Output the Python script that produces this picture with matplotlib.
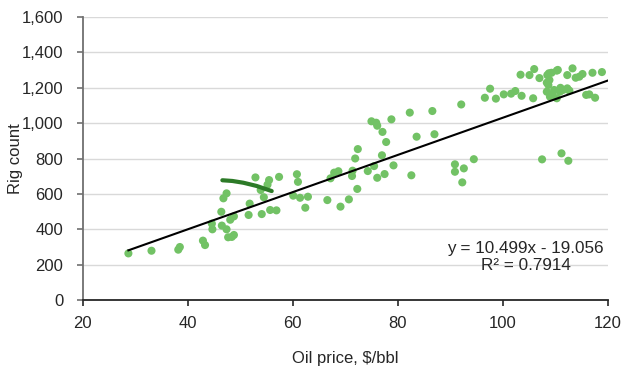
import numpy as np
import matplotlib
matplotlib.use("Agg")
import matplotlib.pyplot as plt
from matplotlib import font_manager

# oil price ($/bbl) vs rig count
price = [28.7, 33.1, 38.2, 38.5, 42.9, 43.3, 44.6, 44.7, 46.5, 46.4,
         46.8, 47.4, 47.4, 47.7, 48.4, 48.8, 48.1, 48.8, 51.6, 51.8,
         52.9, 53.9, 54.1, 54.5, 55.2, 55.5, 55.7, 56.9, 57.4, 60.1,
         61.4, 62.9, 60.8, 61.0, 62.4, 66.6, 67.2, 67.9, 68.7, 69.1,
         70.7, 71.3, 71.4, 71.9, 72.4, 72.3, 74.3, 75.0, 75.9, 76.1,
         75.5, 76.1, 77.1, 77.0, 77.5, 77.8, 78.8, 79.2, 82.3, 82.6,
         83.6, 86.6, 87.0, 90.9, 90.9, 92.6, 92.3, 94.5, 107.5, 111.2,
         112.5, 92.1, 96.6, 97.6, 98.7, 100.2, 101.6, 102.4, 103.6, 103.4,
         105.1, 106.0, 105.8, 107.0, 108.5, 108.8, 109.3, 110.3, 110.5, 108.4,
         108.9, 108.7, 108.4, 109.0, 109.8, 110.3, 110.9, 111.5, 112.3, 112.7,
         112.3, 113.3, 113.9, 114.6, 115.2, 115.9, 116.5, 117.6, 117.1, 118.9,
         109.5, 111.0]
rigs = [265, 280, 286, 301, 337, 312, 433, 401, 422, 500,
        576, 604, 401, 356, 358, 369, 455, 474, 482, 546,
        694, 623, 487, 582, 653, 679, 510, 508, 697, 591,
        579, 585, 712, 669, 523, 566, 689, 721, 729, 529,
        570, 702, 732, 801, 854, 629, 730, 1011, 1003, 986,
        758, 692, 951, 819, 713, 894, 1022, 762, 1060, 706,
        924, 1069, 938, 768, 726, 745, 666, 797, 796, 830,
        788, 1106, 1144, 1195, 1139, 1163, 1167, 1182, 1155, 1274,
        1272, 1306, 1141, 1255, 1272, 1282, 1285, 1297, 1301, 1229,
        1244, 1216, 1178, 1150, 1188, 1141, 1178, 1188, 1197, 1184,
        1272, 1310, 1257, 1263, 1278, 1160, 1163, 1144, 1285, 1289,
        1165, 1200]

# short dark green path near the $47-56 range
path_price = [46.6, 48.5, 50.6, 53.1, 55.0, 56.0]
path_rigs = [678, 674, 664, 646, 627, 617]

slope = 10.499
intercept = -19.056
r2 = 0.7914

# narrow font if there is one, otherwise Liberation Sans a bit smaller
try:
    font_manager.findfont('Liberation Sans Narrow', fallback_to_default=False)
    plt.rcParams['font.family'] = ['Liberation Sans Narrow', 'DejaVu Sans']
    fs = 14
except ValueError:
    plt.rcParams['font.family'] = ['Liberation Sans', 'DejaVu Sans']
    fs = 12

txt = '#262626'

fig = plt.figure(figsize=(6.3, 3.76), dpi=100)
ax = fig.add_axes([0.1313, 0.2013, 0.8333, 0.7535])

ax.scatter(price, rigs, s=34, color='#72c265', edgecolors='none', zorder=3)
ax.plot(path_price, path_rigs, color='#2c7a27', lw=3, solid_capstyle='round', zorder=4)

trend_x = np.array([min(price), 120])
ax.plot(trend_x, slope * trend_x + intercept, color='black', lw=1.5, zorder=5)

ax.text(525.8 / 630, 1 - 257 / 376,
        'y = %.3fx - %.3f\nR² = %.4f' % (slope, -intercept, r2),
        transform=fig.transFigure, ha='center', va='center',
        fontsize=fs + 0.3, color=txt, linespacing=1.2)

ax.set_xlim(20, 120)
ax.set_ylim(0, 1600)
ax.set_xticks(range(20, 121, 20))
ax.set_yticks(range(0, 1601, 200))
ax.set_yticklabels(['{:,}'.format(v) for v in range(0, 1601, 200)])
ax.grid(axis='y', color='#d9d9d9', lw=1)
ax.set_axisbelow(True)

for side in ['top', 'right']:
    ax.spines[side].set_visible(False)
ax.spines['left'].set_color('#707070')
ax.spines['left'].set_linewidth(1.3)
ax.spines['bottom'].set_color(txt)
ax.spines['bottom'].set_linewidth(1.3)
ax.tick_params(axis='y', direction='out', length=4, width=1.2, color='#707070',
               labelsize=fs, labelcolor=txt, pad=10)
ax.tick_params(axis='x', direction='out', length=4, width=1.2, color=txt,
               labelsize=fs, labelcolor=txt, pad=7)

ax.set_xlabel('Oil price, $/bbl', fontsize=fs, color=txt, labelpad=15)
ax.set_ylabel('Rig count', fontsize=fs, color=txt)
ax.yaxis.set_label_coords(-0.114, 0.5)

fig.savefig('out.png', dpi=100)
